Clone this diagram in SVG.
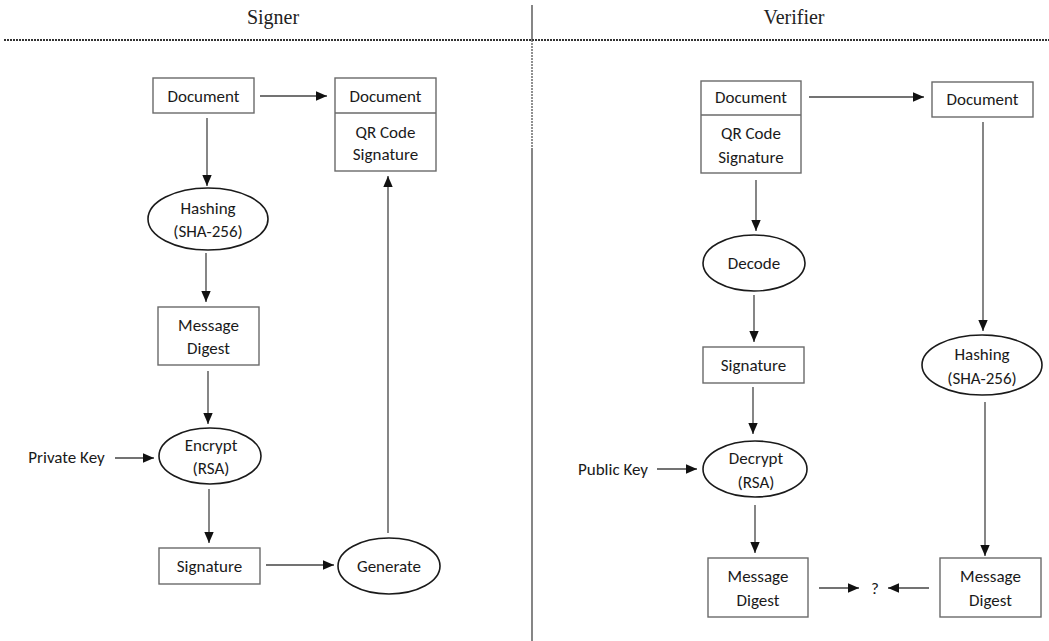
<svg xmlns="http://www.w3.org/2000/svg" width="1049" height="641" viewBox="0 0 1049 641">
<style>
.bg{fill:#fff}
.box{fill:#fff;stroke:#6a6a6a;stroke-width:1.4}
.ell{fill:#fff;stroke:#1a1a1a;stroke-width:1.6}
.t{font-family:Carlito,"Liberation Sans",Arial,sans-serif;font-size:17px;fill:#1a1a1a;text-anchor:middle}
.h{font-family:"Liberation Serif","Times New Roman",serif;font-size:20px;fill:#222;text-anchor:middle}
.c{stroke:#444;stroke-width:1.3;fill:none;marker-end:url(#ah)}
.div{stroke:#444;stroke-width:1.3;fill:none}
</style>
<defs>
<marker id="ah" markerUnits="userSpaceOnUse" markerWidth="13" markerHeight="13" viewBox="0 0 13 13" refX="12" refY="6.5" orient="auto">
<path d="M1,1.8 L12,6.5 L1,11.2 Z" fill="#111"/>
</marker>
</defs>
<rect class="bg" x="0" y="0" width="1049" height="641"/>

<g id="header">
<text class="h" x="273" y="24">Signer</text>
<text class="h" x="794" y="24">Verifier</text>
<line x1="4" y1="40" x2="1049" y2="40" stroke="#333" stroke-width="1.8" stroke-dasharray="2,1"/>
<line class="div" x1="532" y1="5" x2="532" y2="40"/>
<line x1="532" y1="40" x2="532" y2="148" stroke="#555" stroke-width="1.3" stroke-dasharray="2,1"/>
<line class="div" x1="532" y1="148" x2="532" y2="641"/>
</g>

<g id="connectors">
<line class="c" x1="260" y1="96" x2="327" y2="96"/>
<line class="c" x1="207" y1="118" x2="207" y2="186"/>
<line class="c" x1="206" y1="253" x2="206" y2="302"/>
<line class="c" x1="208" y1="371" x2="208" y2="424"/>
<line class="c" x1="115" y1="458" x2="154" y2="458"/>
<line class="c" x1="209" y1="489" x2="209" y2="543"/>
<line class="c" x1="266" y1="565" x2="334" y2="565"/>
<line class="c" x1="388" y1="533" x2="388" y2="176"/>

<line class="c" x1="809" y1="97" x2="924" y2="97"/>
<line class="c" x1="756" y1="180" x2="756" y2="231"/>
<line class="c" x1="754" y1="295" x2="754" y2="342"/>
<line class="c" x1="753" y1="387" x2="753" y2="434"/>
<line class="c" x1="657" y1="469" x2="697" y2="469"/>
<line class="c" x1="755" y1="505" x2="755" y2="553"/>
<line class="c" x1="983" y1="122" x2="983" y2="331"/>
<line class="c" x1="985" y1="402" x2="985" y2="556"/>
<line class="c" x1="819" y1="588" x2="859" y2="588"/>
<line class="c" x1="929" y1="588" x2="888" y2="588"/>
</g>

<g id="s-document">
<rect class="box" x="153" y="78" width="101" height="35"/>
<text class="t" x="203.5" y="101.5">Document</text>
</g>
<g id="s-signed-document">
<rect class="box" x="335" y="78" width="101" height="93"/>
<line x1="335" y1="113" x2="436" y2="113" stroke="#6a6a6a" stroke-width="1.4"/>
<text class="t" x="385.5" y="101.5">Document</text>
<text class="t" x="385.5" y="137.5">QR Code</text>
<text class="t" x="385.5" y="159.5">Signature</text>
</g>
<g id="s-hashing">
<ellipse class="ell" cx="208" cy="219" rx="60" ry="31"/>
<text class="t" x="208" y="213.5">Hashing</text>
<text class="t" x="208" y="236.5">(SHA-256)</text>
</g>
<g id="s-digest">
<rect class="box" x="158" y="307" width="101" height="58"/>
<text class="t" x="208.5" y="330.5">Message</text>
<text class="t" x="208.5" y="353.5">Digest</text>
</g>
<g id="s-encrypt">
<ellipse class="ell" cx="210" cy="456" rx="51" ry="28"/>
<text class="t" x="211" y="450.5">Encrypt</text>
<text class="t" x="211" y="473.5">(RSA)</text>
</g>
<g id="s-private-key">
<text class="t" x="66.5" y="463">Private Key</text>
</g>
<g id="s-signature">
<rect class="box" x="159" y="548" width="101" height="36"/>
<text class="t" x="209.5" y="571.5">Signature</text>
</g>
<g id="s-generate">
<ellipse class="ell" cx="389" cy="566" rx="51" ry="28"/>
<text class="t" x="389" y="571.5">Generate</text>
</g>

<g id="v-signed-document">
<rect class="box" x="701" y="81" width="100" height="92"/>
<line x1="701" y1="115" x2="801" y2="115" stroke="#6a6a6a" stroke-width="1.4"/>
<text class="t" x="751" y="103">Document</text>
<text class="t" x="751" y="138.5">QR Code</text>
<text class="t" x="751" y="162.5">Signature</text>
</g>
<g id="v-document">
<rect class="box" x="932" y="82" width="101" height="35"/>
<text class="t" x="982.5" y="104.5">Document</text>
</g>
<g id="v-decode">
<ellipse class="ell" cx="754" cy="263" rx="51" ry="28"/>
<text class="t" x="754" y="268.5">Decode</text>
</g>
<g id="v-signature">
<rect class="box" x="703" y="347" width="101" height="36"/>
<text class="t" x="753.5" y="370.5">Signature</text>
</g>
<g id="v-decrypt">
<ellipse class="ell" cx="755" cy="469" rx="52" ry="28"/>
<text class="t" x="756" y="463.5">Decrypt</text>
<text class="t" x="756" y="488">(RSA)</text>
</g>
<g id="v-public-key">
<text class="t" x="613" y="474.5">Public Key</text>
</g>
<g id="v-digest-left">
<rect class="box" x="708" y="558" width="100" height="59"/>
<text class="t" x="758" y="581.5">Message</text>
<text class="t" x="758" y="605.5">Digest</text>
</g>
<g id="v-hashing">
<ellipse class="ell" cx="982" cy="365" rx="60" ry="30"/>
<text class="t" x="982" y="359.5">Hashing</text>
<text class="t" x="982" y="383.5">(SHA-256)</text>
</g>
<g id="v-digest-right">
<rect class="box" x="940" y="558" width="101" height="59"/>
<text class="t" x="990.5" y="581.5">Message</text>
<text class="t" x="990.5" y="605.5">Digest</text>
</g>
<g id="v-compare">
<text class="t" x="875" y="593.5">?</text>
</g>
</svg>
